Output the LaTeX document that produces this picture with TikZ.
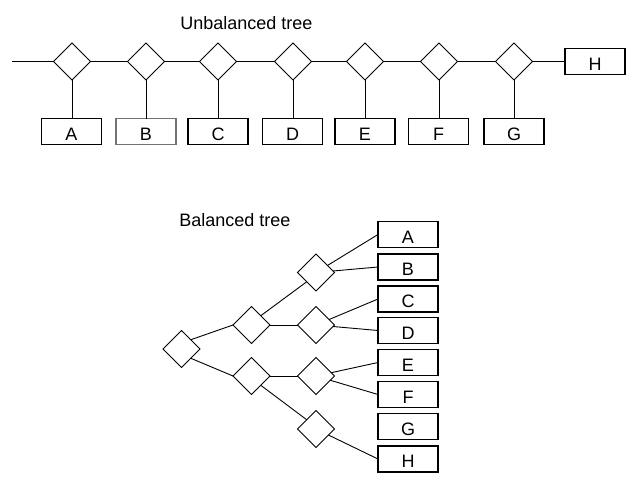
\documentclass[tikz,border=0pt]{standalone}
\usepackage{fontspec}
\setmainfont{Liberation Sans}
\usetikzlibrary{shapes.geometric}
\begin{document}
\begin{tikzpicture}[x=1pt,y=-1pt,
  dia/.style={draw,diamond,aspect=1,inner sep=0pt,outer sep=0pt,minimum width=37pt,minimum height=37pt,line width=0.9pt},
  leaf/.style={draw,rectangle,inner sep=0pt,outer sep=0pt,minimum width=60pt,minimum height=26pt,line width=1.4pt,text height=17.5pt,text depth=0pt,font=\fontsize{18}{18}\selectfont},
  title/.style={font=\fontsize{18}{18}\selectfont,inner sep=0pt},
  conn/.style={line width=0.9pt}]
\useasboundingbox (0,0) rectangle (638,490);
% Unbalanced tree
\node[title] (t1) at (246.5,23) {Unbalanced tree};
\coordinate (start) at (12,61.5);
\node[dia] (u1) at (72,61.5) {};
\node[dia] (u2) at (146,61.5) {};
\node[dia] (u3) at (218,61.5) {};
\node[dia] (u4) at (293,61.5) {};
\node[dia] (u5) at (365,61.5) {};
\node[dia] (u6) at (439,61.5) {};
\node[dia] (u7) at (514,61.5) {};
\node[leaf] (uA) at (71.5,131.5) {A};
\node[leaf,draw=black!55] (uB) at (146,131.5) {B};
\node[leaf] (uC) at (218,131.5) {C};
\node[leaf] (uD) at (292.5,131.5) {D};
\node[leaf] (uE) at (365,131.5) {E};
\node[leaf] (uF) at (438.5,131.5) {F};
\node[leaf] (uG) at (514,131.5) {G};
\node[leaf] (uH) at (595,61.5) {H};
\draw[conn] (start) -- (u1.west);
\draw[conn] (u1.east) -- (u2.west);
\draw[conn] (u2.east) -- (u3.west);
\draw[conn] (u3.east) -- (u4.west);
\draw[conn] (u4.east) -- (u5.west);
\draw[conn] (u5.east) -- (u6.west);
\draw[conn] (u6.east) -- (u7.west);
\draw[conn] (u7.east) -- (uH.west);
\draw[conn] (u1.south) -- (u1.south |- uA.north);
\draw[conn] (u2.south) -- (u2.south |- uB.north);
\draw[conn] (u3.south) -- (u3.south |- uC.north);
\draw[conn] (u4.south) -- (u4.south |- uD.north);
\draw[conn] (u5.south) -- (u5.south |- uE.north);
\draw[conn] (u6.south) -- (u6.south |- uF.north);
\draw[conn] (u7.south) -- (u7.south |- uG.north);
% Balanced tree
\node[title] (t2) at (235,220) {Balanced tree};
\node[dia] (r) at (181.5,349) {};
\node[dia] (m1) at (251.5,325) {};
\node[dia] (m2) at (251.5,376) {};
\node[dia] (d1) at (316,272.5) {};
\node[dia] (d2) at (316,325) {};
\node[dia] (d3) at (316,376) {};
\node[dia] (d4) at (316,429) {};
\node[leaf] (bA) at (408,234.5) {A};
\node[leaf] (bB) at (408,267) {B};
\node[leaf] (bC) at (408,299) {C};
\node[leaf] (bD) at (408,330.5) {D};
\node[leaf] (bE) at (408,362.5) {E};
\node[leaf] (bF) at (408,394.5) {F};
\node[leaf] (bG) at (408,426.5) {G};
\node[leaf] (bH) at (408,459) {H};
\draw[conn] (r.north east) -- (m1.west);
\draw[conn] (r.south east) -- (m2.west);
\draw[conn] (m1.north east) -- (d1.south west);
\draw[conn] (m1.east) -- (d2.west);
\draw[conn] (m2.east) -- (d3.west);
\draw[conn] (m2.south east) -- (d4.north west);
\draw[conn] (d1) -- (bA.west);
\draw[conn] (d1) -- (bB.west);
\draw[conn] (d2) -- (bC.west);
\draw[conn] (d2) -- (bD.west);
\draw[conn] (d3) -- (bE.west);
\draw[conn] (d3) -- (bF.west);
\draw[conn] (d4) -- (bH.west);
\end{tikzpicture}
\end{document}
